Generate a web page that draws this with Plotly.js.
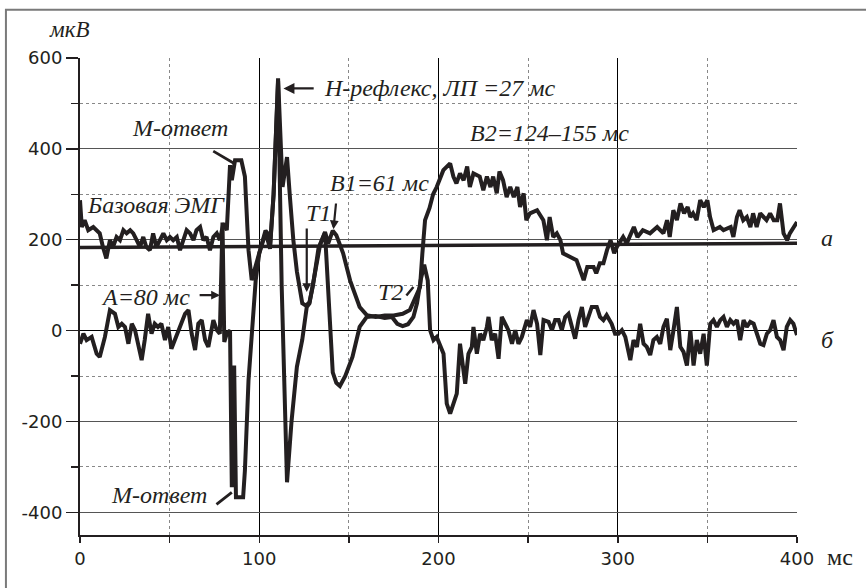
<!DOCTYPE html>
<html>
<head>
<meta charset="utf-8">
<script src="https://cdn.plot.ly/plotly-3.0.1.min.js"></script>
<style>
  html, body { margin: 0; padding: 0; background: #fff; }
  #chart { width: 866px; height: 588px; }
</style>
</head>
<body>
<div id="chart"></div>
<script>
// ---- Series "а" (upper trace), time in ms, amplitude in µV ----
const timeA = [
  0, 1, 2.6, 4.6, 7.4, 9.3, 11, 12.8, 14.7, 16.7,
  18.4, 20.4, 22.3, 24.2, 26, 28, 29.7, 31.6, 33.5, 35.3,
  37, 39, 40.8, 42.6, 44.6, 46.5, 48.4, 50.2, 52, 54,
  55.8, 57.7, 59.5, 61.4, 63.3, 65, 67, 68.8, 70.6, 72.5,
  74.4, 76.3, 78, 80, 81.9, 83.7, 84.7, 86.5, 90, 92,
  94, 95.8, 97.5, 100, 102, 103.5, 104.5, 106, 108, 110.5,
  113, 115.5, 117, 119, 121, 124, 126, 128, 130, 133,
  136.7, 138.5, 141, 143, 146.8, 150.7, 156, 160, 165, 170,
  175, 180, 184, 187, 189.7, 191, 192.5, 195, 197, 199,
  202.7, 206.5, 208.3, 210, 212, 214, 216, 217.5, 219.5, 223,
  225, 227, 229, 230.5, 232.5, 234, 236, 238, 240, 242,
  244, 245.5, 247.5, 249, 251, 255, 258.5, 260.5, 262, 264,
  266, 268, 269.5, 273.5, 277, 281, 283, 286.5, 288, 290,
  292, 294, 296, 298, 299.5, 303, 305, 309, 311, 314,
  318, 322, 325.5, 327.5, 329, 331, 333, 335, 337, 339,
  340.5, 342, 344, 346, 348, 350, 351.5, 353.5, 357, 359,
  363, 364.5, 366.5, 368, 370, 372, 374, 375.5, 377.5, 379.5,
  381, 383, 385, 387, 389, 390.5, 392.5, 394.5, 396, 398,
  400
];
const valA = [
  287, 228, 243, 221, 228, 221, 214, 184, 159, 199,
  184, 206, 199, 221, 214, 221, 214, 199, 184, 206,
  184, 177, 214, 184, 199, 214, 199, 206, 199, 206,
  177, 199, 221, 214, 199, 221, 228, 199, 206, 177,
  206, 214, 199, 236, 221, 364, 331, 375, 375, 339,
  177, 111, 135, 170, 195, 220, 215, 185, 300, 555,
  316, 382, 300, 200, 130, 60, 55, 62, 100, 180,
  217, 192, 220, 210, 170, 110, 52, 34, 30, 33,
  33, 37, 45, 70, 96, 170, 243, 270, 300, 316,
  353, 368, 339, 324, 346, 331, 361, 316, 346, 339,
  309, 339, 316, 339, 302, 350, 331, 294, 316, 294,
  316, 272, 302, 243, 258, 265, 243, 199, 250, 206,
  214, 199, 170, 162, 155, 111, 140, 140, 126, 148,
  148, 177, 199, 170, 184, 206, 192, 228, 206, 221,
  214, 228, 214, 243, 206, 265, 243, 280, 258, 272,
  250, 258, 243, 287, 272, 287, 250, 221, 228, 221,
  228, 206, 250, 265, 243, 250, 228, 258, 228, 258,
  250, 243, 258, 243, 243, 280, 214, 199, 214, 228,
  239
];

// ---- Series "б" (lower trace) ----
const timeB = [
  0, 1.9, 3.7, 6.5, 9.3, 11, 13.9, 16.7, 19.5, 21.4,
  23.3, 25.1, 27, 28.9, 30.7, 32.6, 34.4, 36.1, 38, 39.9,
  41.7, 43.5, 45.4, 47.4, 49.2, 51, 52.9, 55.8, 58.6, 60.5,
  62.3, 64.2, 66, 67.9, 69.8, 71.6, 74.4, 76.3, 78, 79.5,
  80.5, 82, 83.7, 84.7, 86, 87, 91, 92, 94, 96,
  98, 100, 102, 103.5, 105, 106, 108, 110.5, 112.5, 115.5,
  118, 121, 124, 126.5, 128, 131, 134, 136.7, 139, 141,
  143, 145, 148, 152, 156, 160, 165, 170, 174, 177,
  180, 183, 186, 188, 190, 192, 194, 195.3, 197.2, 199,
  202.8, 204.6, 206.5, 208.4, 210.2, 212, 214.9, 216.7, 218.6, 219.5,
  221.4, 223.2, 225, 227, 227.9, 229.7, 231.6, 233.5, 235.3, 237.2,
  239, 241, 242.8, 244.6, 246.5, 249.3, 251.1, 253, 255, 256.8,
  258.6, 261.4, 263.3, 265.1, 267, 268.8, 270.7, 272.5, 274.4, 276.2,
  278.1, 280, 281.8, 283.7, 285.5, 288.3, 290.1, 292, 293.8, 296.6,
  298.5, 300.4, 302.3, 304.2, 307, 308.8, 310.7, 312.5, 314.4, 316.2,
  318.1, 319.9, 321.8, 323.7, 325.5, 327.4, 329.3, 331.1, 333, 334.9,
  336.7, 338.6, 340.5, 342.3, 344.1, 346, 347.9, 349.7, 351.6, 353.4,
  355.3, 357.2, 359, 360.9, 362.8, 364.6, 366.5, 368.3, 370.2, 372,
  373.9, 375.8, 377.6, 379.5, 381.3, 383.2, 385, 386.9, 388.8, 390.6,
  392.5, 394.3, 396.2, 398, 400
];
const valB = [
  -29, -7, -21, -14, -51, -58, -14, 45, 37, 8,
  15, 8, -29, 15, 1, -36, -65, -21, 37, -7,
  15, 8, 15, -21, 8, -40, -21, 8, 37, 45,
  -7, -43, 15, 23, -21, -36, 23, 1, -7, 238,
  -25, -5, 0, -345, -77, -367, -367, -308, -110, 0,
  110, 170, 195, 215, 195, 180, 300, 550, 100, -334,
  -200, -80, -20, 52, 60, 120, 190, 215, 50, -92,
  -115, -122, -100, -58, 8, 30, 32, 28, 30, 15,
  10, 14, 30, 60, 110, 145, 110, 1, -21, -14,
  -51, -161, -183, -161, -139, -29, -117, -51, -36, 8,
  -51, -7, -21, 8, 30, -21, -7, -62, 30, 15,
  1, -29, 1, -29, -14, 23, 8, 45, 15, -54,
  23, 19, 1, 23, 23, 1, 30, 37, 8, -18,
  23, 52, 8, 30, 52, 52, 30, 23, 34, 15,
  -7, -7, 1, -14, -65, -21, -36, 15, -29, -36,
  -54, -21, -14, -29, 8, 26, -43, 1, 52, -36,
  -47, -77, 1, -77, -21, -51, -7, -77, 15, 23,
  8, 23, 30, 8, 23, 15, 23, -21, 23, 8,
  19, 15, -7, -29, -32, -7, 1, 23, -14, -21,
  -43, 8, 23, 15, -10
];

// ---- Baseline (level of background EMG) ----
const baseTime = [0, 400];
const baseVal = [183, 192];

// ---- Axis ticks ----
const xMajor = [0, 100, 200, 300, 400];
const xMajorText = ['0', '100', '200', '300', '400'];
const xMinor = [50, 150, 250, 350];
const yMajor = [-400, -200, 0, 200, 400, 600];
const yMajorText = ['-400', '-200', '0', '200', '400', '600'];
const yMinor = [-300, -100, 100, 300, 500];

const INK = '#231f20';
const lineStyle = { color: INK, width: 4 };

const traces = [
  { x: baseTime, y: baseVal, type: 'scatter', mode: 'lines',
    line: { color: INK, width: 3.5 }, hoverinfo: 'skip' },
  { x: timeA, y: valA, type: 'scatter', mode: 'lines', line: lineStyle, name: 'а' },
  { x: timeB, y: valB, type: 'scatter', mode: 'lines', line: lineStyle, name: 'б' }
];

const SERIF = "'Liberation Serif', 'Times New Roman', 'DejaVu Serif', serif";
const serif = { family: SERIF, size: 24, color: INK, style: 'italic' };
const serifUp = { family: SERIF, size: 24, color: INK };
function lbl(x, y, text, extra) {
  return Object.assign({ x: x, y: y, xref: 'x', yref: 'y', text: text,
    showarrow: false, font: serif, xanchor: 'center', yanchor: 'middle' }, extra || {});
}
function arrow(x, y, ax, ay, head, extra) {
  return Object.assign({ x: x, y: y, ax: ax, ay: ay, xref: 'x', yref: 'y', axref: 'x', ayref: 'y',
    text: '', showarrow: true, arrowhead: head, arrowsize: 1, arrowwidth: 2.2,
    arrowcolor: INK }, extra || {});
}

const annotations = [
  { xref: 'paper', yref: 'paper', x: -0.014, y: 1.0594, text: 'мкВ', showarrow: false,
    font: Object.assign({}, serif, { size: 23 }), xanchor: 'center', yanchor: 'middle' },
  lbl(135, 533, 'Н-рефлекс, ЛП =27 мс', { xanchor: 'left' }),
  arrow(113.5, 533, 131.2, 533, 2),
  lbl(55.8, 446, 'М-ответ'),
  arrow(85.6, 369, 73.5, 397, 0, { arrowwidth: 2.8 }),
  lbl(42.4, 276, 'Базовая ЭМГ'),
  lbl(166.9, 324, 'В1=61 мс'),
  arrow(141.4, 223, 142.9, 283, 2, { arrowsize: 0.8 }),
  lbl(132.8, 258, 'Т1'),
  arrow(126.5, 85, 126.5, 228, 2, { arrowsize: 0.8 }),
  lbl(261.8, 434, 'В2=124–155 мс'),
  lbl(36.3, 74, 'А=80 мс'),
  arrow(78.1, 78, 65.9, 78, 2, { arrowsize: 0.8 }),
  lbl(173, 85, 'Т2'),
  arrow(186, 96, 181.4, 74, 0, { arrowwidth: 2.5 }),
  lbl(44, -363, 'М-ответ'),
  arrow(84.7, -356, 75.3, -385, 0, { arrowwidth: 2.8 }),
  { xref: 'paper', yref: 'y', x: 1.0423, y: 203, text: 'а', showarrow: false, font: serif,
    xanchor: 'center', yanchor: 'middle' },
  { xref: 'paper', yref: 'y', x: 1.0423, y: -21, text: 'б', showarrow: false, font: serif,
    xanchor: 'center', yanchor: 'middle' },
  { xref: 'paper', yref: 'paper', x: 1.0604, y: -0.046, text: 'мс', showarrow: false, font: serifUp,
    xanchor: 'center', yanchor: 'middle' }
];

const tickFont = { family: 'DejaVu Sans, Arial, sans-serif', size: 18, color: INK };

const layout = {
  width: 866, height: 588,
  margin: { l: 80, r: 69, t: 58, b: 53 },
  paper_bgcolor: '#fff', plot_bgcolor: '#fff',
  showlegend: false,
  font: tickFont,
  xaxis: {
    range: [0, 400], tickmode: 'array', tickvals: xMajor, ticktext: xMajorText,
    ticks: 'outside', ticklen: 6, tickwidth: 1.5, tickcolor: INK,
    showline: true, linewidth: 2, linecolor: INK,
    showgrid: true, gridcolor: '#000', gridwidth: 1, zeroline: false,
    tickfont: tickFont,
    minor: { tickmode: 'array', tickvals: xMinor, ticks: 'outside', ticklen: 6, tickwidth: 1.5,
      tickcolor: INK, showgrid: true, gridcolor: '#888', griddash: 'dot', gridwidth: 1 }
  },
  yaxis: {
    range: [-450, 600], tickmode: 'array', tickvals: yMajor, ticktext: yMajorText,
    ticks: 'outside', ticklen: 12, tickwidth: 1.5, tickcolor: INK,
    showline: true, linewidth: 2, linecolor: INK,
    showgrid: true, gridcolor: '#555', gridwidth: 1,
    zeroline: true, zerolinecolor: '#000', zerolinewidth: 1.2,
    tickfont: tickFont,
    minor: { tickmode: 'array', tickvals: yMinor, ticks: 'outside', ticklen: 7, tickwidth: 1.5,
      tickcolor: INK, showgrid: true, gridcolor: '#888', griddash: 'dot', gridwidth: 1 }
  },
  shapes: [
    { type: 'rect', xref: 'paper', yref: 'paper', x0: -0.1033, x1: 1.12, y0: -0.2, y1: 1.1013,
      line: { color: '#7a7a7a', width: 2 }, fillcolor: 'rgba(0,0,0,0)', layer: 'below' }
  ],
  annotations: annotations
};

Plotly.newPlot('chart', traces, layout, { displayModeBar: false, staticPlot: true });
</script>
</body>
</html>
